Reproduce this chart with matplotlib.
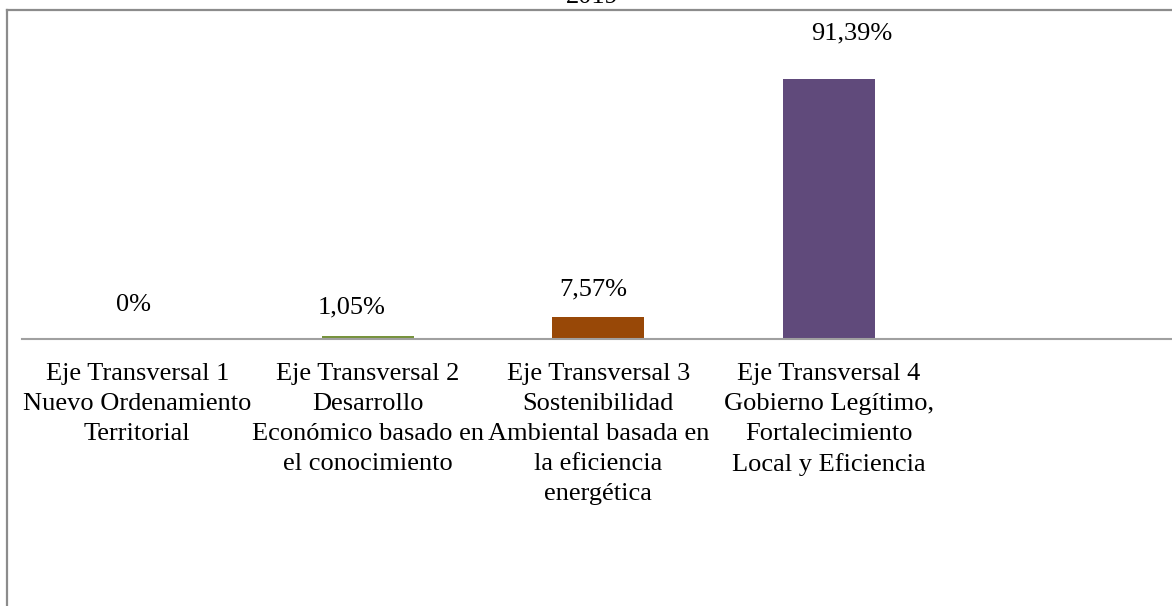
import matplotlib.pyplot as plt
from matplotlib.lines import Line2D

plt.rcParams['font.family'] = ['Liberation Serif', 'DejaVu Serif']

categories = [
    "Eje Transversal 1\nNuevo Ordenamiento\nTerritorial",
    "Eje Transversal 2\nDesarrollo\nEconómico basado en\nel conocimiento",
    "Eje Transversal 3\nSostenibilidad\nAmbiental basada en\nla eficiencia\nenergética",
    "Eje Transversal 4\nGobierno Legítimo,\nFortalecimiento\nLocal y Eficiencia",
]
values = [0, 1.05, 7.57, 91.39]
value_labels = ["0%", "1,05%", "7,57%", "91,39%"]
colors = ["#4F81BD", "#77933C", "#984807", "#604A7B"]
title = "2019"

# label offsets in pixels (dx, dy) relative to bar top centre
label_offsets = [(-4, 34), (-16, 29), (-5, 28), (23, 46)]

FS = 19
W, H = 1172, 606
fig = plt.figure(figsize=(W / 100, H / 100), dpi=100)
ax = fig.add_axes([22 / W, (H - 339) / H, 1152.5 / W, 284.5 / H])

x = list(range(len(values)))
ax.bar(x, values, width=0.40, color=colors, zorder=2)
ax.set_xlim(-0.5, 4.5)
ax.set_ylim(0, 100)

for i, (v, lab) in enumerate(zip(values, value_labels)):
    dx, dy = label_offsets[i]
    ax.annotate(lab, xy=(i, v), xytext=(dx, dy), textcoords='offset pixels',
                ha='center', va='center', fontsize=FS, color='black')

ax.set_xticks(x)
ax.set_xticklabels(categories, fontsize=FS, linespacing=1.47)
ax.tick_params(axis='x', length=0, pad=17)
ax.set_yticks([])
for s in ['top', 'right', 'left']:
    ax.spines[s].set_visible(False)
ax.spines['bottom'].set_color('#A0A0A0')
ax.spines['bottom'].set_linewidth(1.5)
ax.patch.set_alpha(0)

# outer chart frame (only left and top edges are visible in the crop)
fig.add_artist(Line2D([7 / W, 7 / W], [0, 1 - 10 / H], color='#8C8C8C', lw=1.6))
fig.add_artist(Line2D([7 / W, 1], [1 - 10 / H, 1 - 10 / H], color='#8C8C8C', lw=1.6))

fig.text(592 / W, 1 - 3 / H, title, ha='center', va='baseline', fontsize=FS)

fig.savefig('out.png', dpi=100)
